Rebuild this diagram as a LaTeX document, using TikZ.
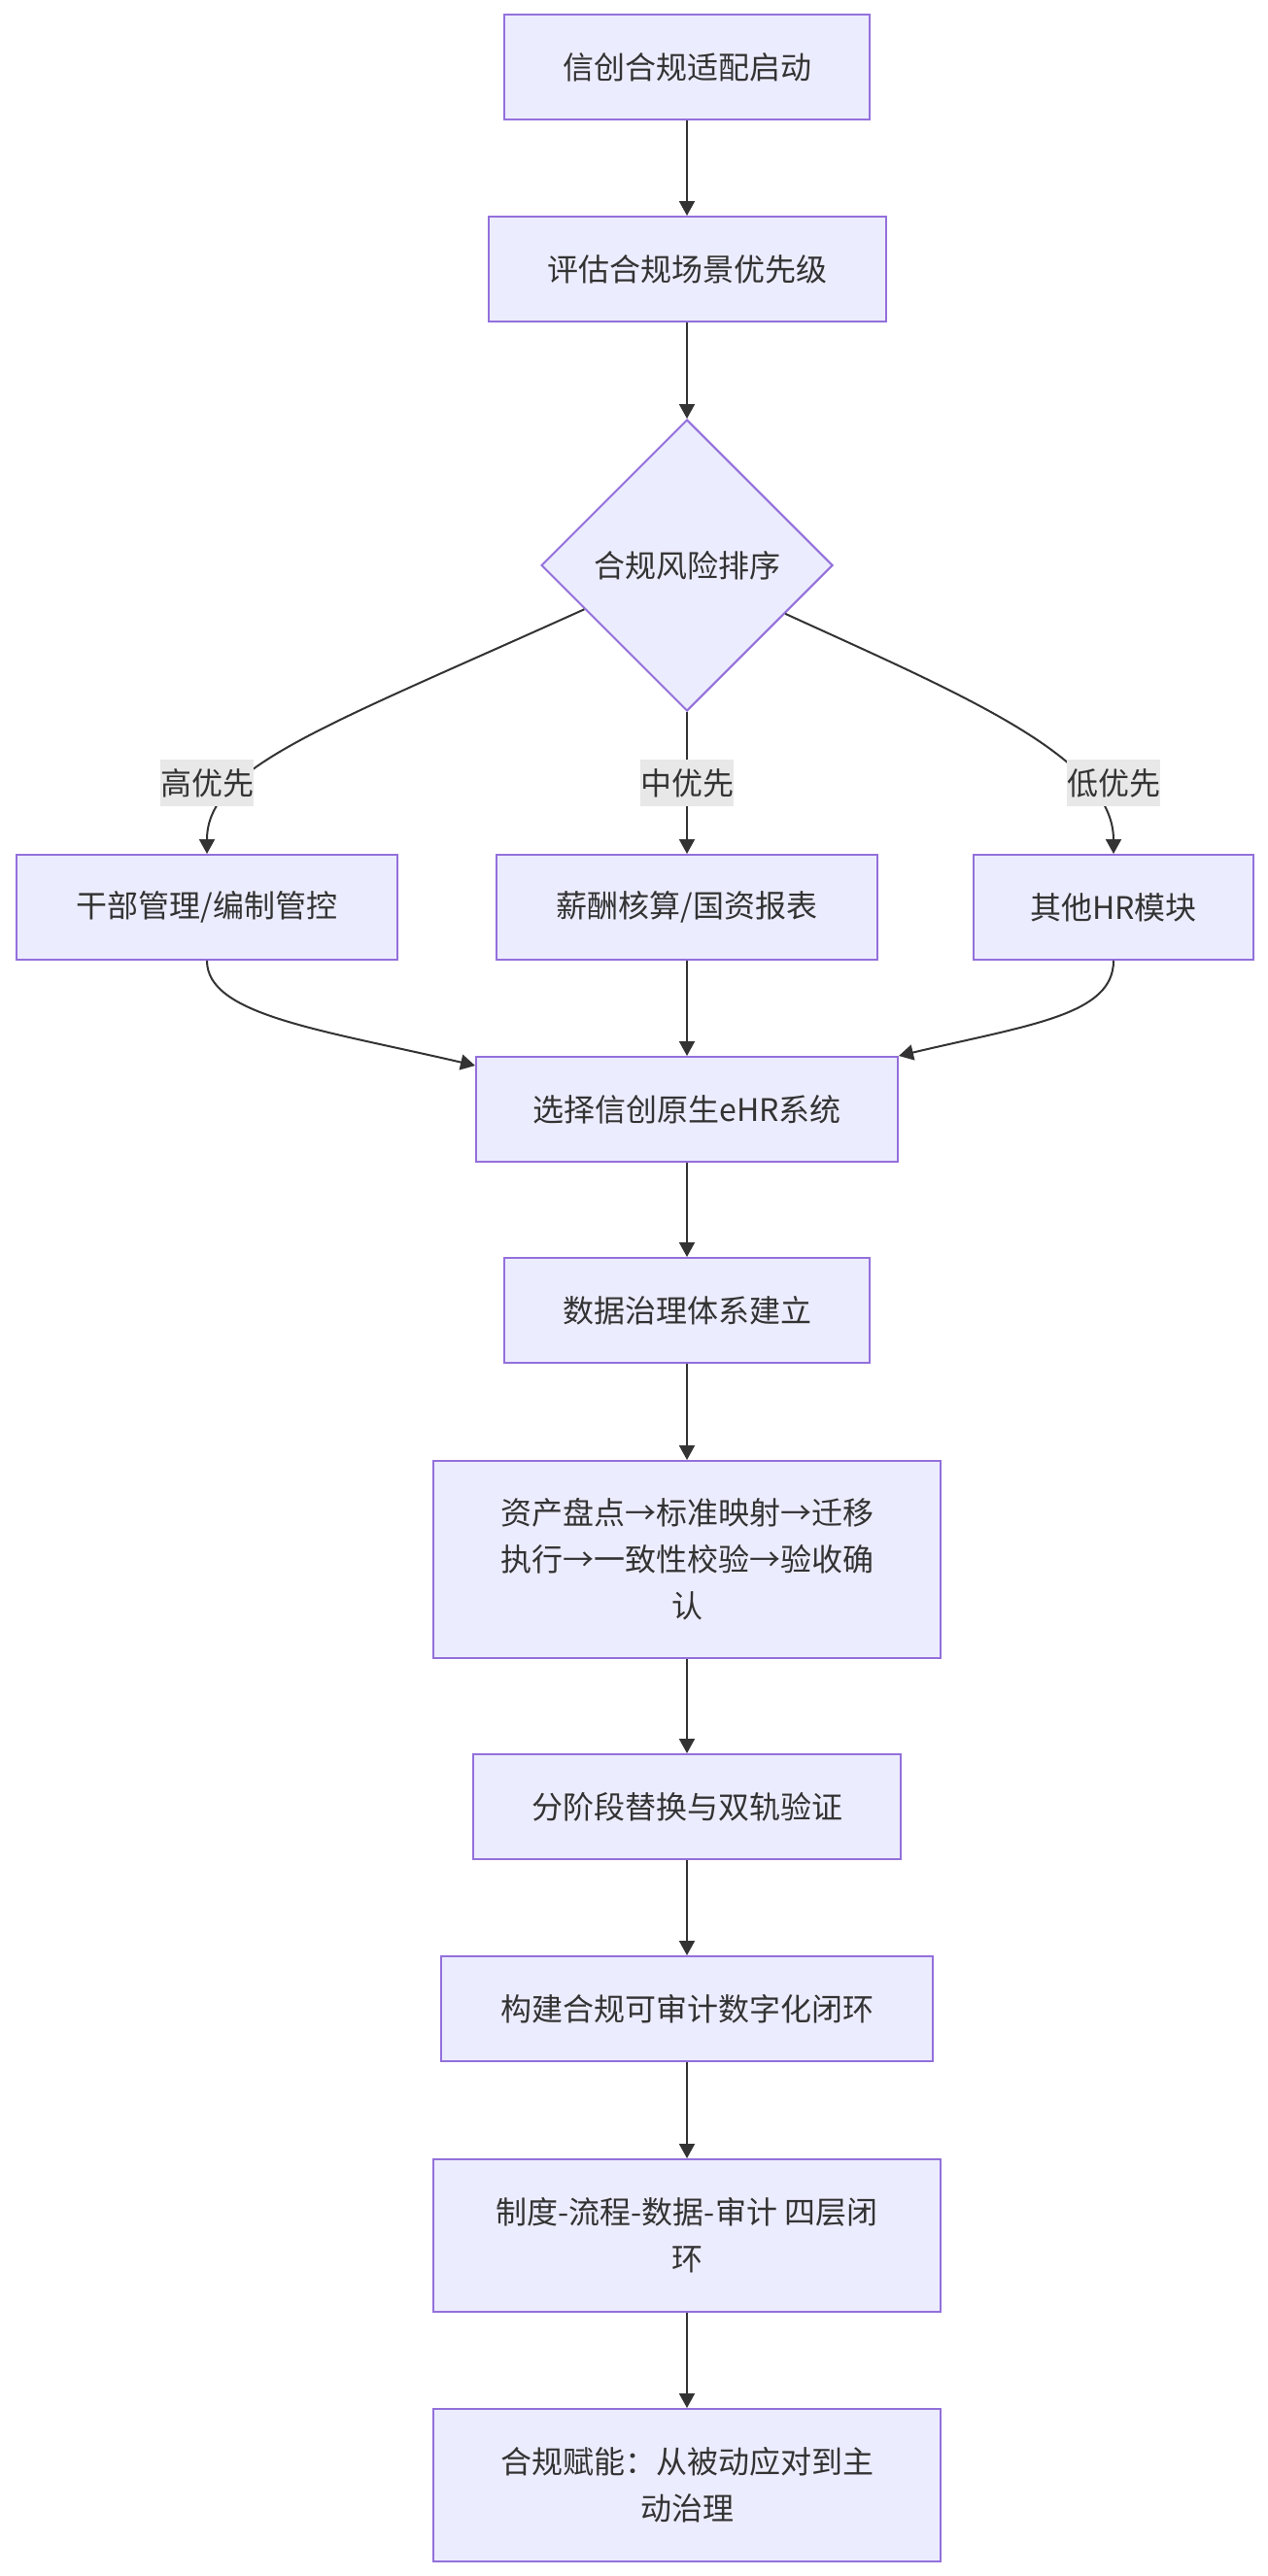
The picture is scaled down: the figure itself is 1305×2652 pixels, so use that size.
\documentclass[tikz,border=0pt]{standalone}
\usepackage{fontspec}
\newfontfamily\cjk{Noto Sans CJK SC}
\usetikzlibrary{shapes.geometric,arrows.meta,calc}
\definecolor{nodefill}{HTML}{ECECFF}
\definecolor{nodeborder}{HTML}{9370DB}
\definecolor{edgecol}{HTML}{333333}
\definecolor{lblbg}{HTML}{E8E8E8}
\begin{document}
\begin{tikzpicture}[x=1pt,y=-1pt,
  box/.style={draw=nodeborder, fill=nodefill, line width=2pt, inner sep=0pt, align=center, text=edgecol, font=\cjk\fontsize{32}{48}\selectfont},
  dia/.style={box, diamond, aspect=1, minimum width=300pt, minimum height=300pt},
  flow/.style={draw=edgecol, line width=2pt, -{Triangle[length=15pt,width=16pt]}},
  lbl/.style={fill=lblbg, inner sep=0pt, minimum width=96pt, minimum height=48pt, text=edgecol, font=\cjk\fontsize{32}{48}\selectfont}]
\useasboundingbox[fill=white] (0,0) rectangle (1305,2652);

\node[box, minimum width=376pt, minimum height=108pt] (n1) at (707,69) {信创合规适配启动};
\node[box, minimum width=409pt, minimum height=108pt] (n2) at (707,277) {评估合规场景优先级};
\node[dia] (d) at (707,582) {合规风险排序};
\node[box, minimum width=392pt, minimum height=108pt] (n4) at (213,934) {干部管理/编制管控};
\node[box, minimum width=392pt, minimum height=108pt] (n5) at (707,934) {薪酬核算/国资报表};
\node[box, minimum width=288pt, minimum height=108pt] (n6) at (1146,934) {其他HR模块};
\node[box, minimum width=434pt, minimum height=108pt] (n7) at (707,1142) {选择信创原生eHR系统};
\node[box, minimum width=376pt, minimum height=108pt] (n8) at (707,1349) {数据治理体系建立};
\node[box, minimum width=522pt, minimum height=203pt] (n9) at (707,1605.5) {资产盘点→标准映射→迁移\\执行→一致性校验→验收确\\认};
\node[box, minimum width=440pt, minimum height=108pt] (n10) at (707,1860) {分阶段替换与双轨验证};
\node[box, minimum width=506pt, minimum height=108pt] (n11) at (707,2068) {构建合规可审计数字化闭环};
\node[box, minimum width=522pt, minimum height=157pt] (n12) at (707,2301.5) {制度-流程-数据-审计 四层闭\\环};
\node[box, minimum width=522pt, minimum height=157pt] (n13) at (707,2558.5) {合规赋能：从被动应对到主\\动治理};

\draw[flow] (n1.south) -- (n2.north);
\draw[flow] (n2.south) -- (d.north);
\draw[flow] ($(d.west)!0.3!(d.south)$) .. controls (330,750) and (213,790) .. (n4.north);
\draw[flow] (d.south) -- (n5.north);
\draw[flow] ($(d.east)!0.33!(d.south)$) .. controls (990,715) and (1146,780) .. (n6.north);
\draw[flow] (n4.south) .. controls (213,1045) and (330,1060) .. ($(n7.north west)+(0,10)$);
\draw[flow] (n5.south) -- (n7.north);
\draw[flow] (n6.south) .. controls (1146,1045) and (1060,1055) .. (n7.north east);
\draw[flow] (n7.south) -- (n8.north);
\draw[flow] (n8.south) -- (n9.north);
\draw[flow] (n9.south) -- (n10.north);
\draw[flow] (n10.south) -- (n11.north);
\draw[flow] (n11.south) -- (n12.north);
\draw[flow] (n12.south) -- (n13.north);

\node[lbl] (l1) at (213,806) {高优先};
\node[lbl] (l2) at (707,806) {中优先};
\node[lbl] (l3) at (1146,806) {低优先};
\end{tikzpicture}
\end{document}
